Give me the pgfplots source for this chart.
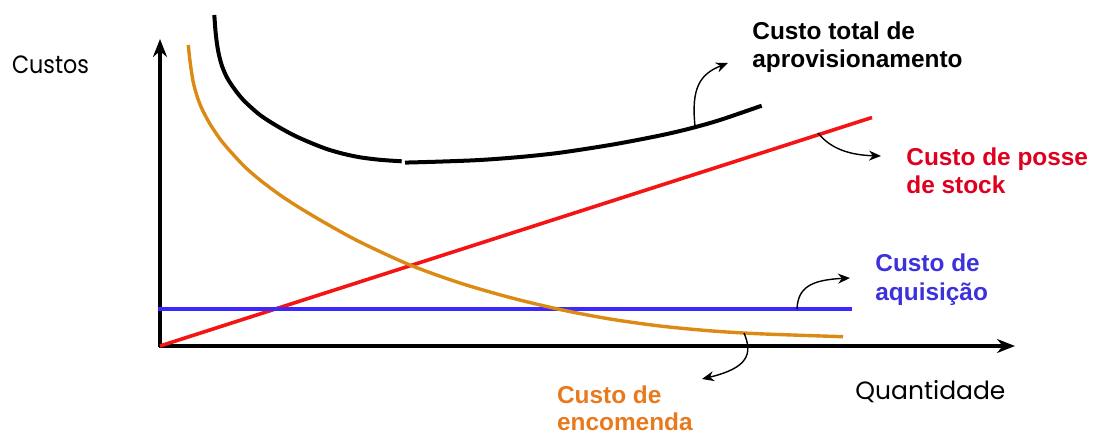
\documentclass[border=0pt]{standalone}
\usepackage{fontspec}
\usepackage{pgfplots}
\pgfplotsset{compat=1.18}
\usetikzlibrary{arrows.meta}
\setmainfont{Liberation Sans}
\newfontfamily\geo{Poppins}
\definecolor{cblack}{RGB}{0,0,0}
\definecolor{corange}{RGB}{219,138,20}
\definecolor{cred}{RGB}{245,20,20}
\definecolor{cblue}{RGB}{60,40,255}
\definecolor{tred}{RGB}{222,0,30}
\definecolor{tblue}{RGB}{60,50,220}
\definecolor{torange}{RGB}{232,122,30}
\begin{document}
\begin{tikzpicture}
\begin{axis}[hide axis, x=0.5pt, y=0.5pt, xmin=-160, xmax=934, ymin=-89, ymax=346, clip=false]
% axes
\addplot[line width=2pt, -{Stealth[length=9pt,width=7pt]}] coordinates {(-1,0) (855,0)};
\addplot[line width=2pt, -{Stealth[length=9pt,width=7pt]}] coordinates {(0,-1) (0,307)};
% red: custo de posse de stock
\addplot[cred, line width=1.8pt] coordinates {(0,0) (712,228.5)};
% blue: custo de aquisicao
\addplot[cblue, line width=1.8pt] coordinates {(-2,37) (691.5,37)};
% orange: custo de encomenda
\addplot[corange, line width=1.7pt, smooth] coordinates {
(28.3,301) (30,285) (33,265) (37,250) (42,237) (50,222) (60,207) (70,195) (85,179)
(100,166) (120,151) (140,138) (167,122) (200,104) (250,81) (300,63) (350,48.5)
(400,36.5) (450,27) (500,20) (550,15.2) (600,12.2) (683,9.3)};
% black: custo total (two pieces)
\addplot[cblack, line width=2pt, smooth] coordinates {
(54.3,331) (55.5,315) (57,302) (59,291) (62,280) (66.7,269) (73,259) (83.3,246)
(100,231) (117,220) (133.3,211) (150,203.5) (166.7,197) (183,192.3) (200,188.7)
(220,186.2) (241.7,184.7)};
\addplot[cblack, line width=2pt, smooth] coordinates {
(245,183.4) (280,184.4) (320,186) (360,189) (400,193.3) (453,201.5) (500,210.5)
(530,217.5) (560,226) (601.7,240.3)};
% annotation arrows
\draw[line width=0.7pt, -{Stealth[length=6pt,width=5pt]}] (axis cs:535,220) .. controls (axis cs:531,258) and (axis cs:540,272) .. (axis cs:568,283);
\draw[line width=0.7pt, -{Stealth[length=6pt,width=5pt]}] (axis cs:658,213) .. controls (axis cs:670,198) and (axis cs:688,191) .. (axis cs:721,190);
\draw[line width=0.7pt, -{Stealth[length=6pt,width=5pt]}] (axis cs:637,37) .. controls (axis cs:638,58) and (axis cs:650,66) .. (axis cs:690,68);
\draw[line width=0.7pt, -{Stealth[length=6pt,width=5pt]}] (axis cs:584,13) .. controls (axis cs:593,-8) and (axis cs:588,-22) .. (axis cs:542,-33);
% labels
\node[anchor=base west, inner sep=0pt, font=\fontsize{12.2}{14}\selectfont\bfseries] at (axis cs:592,306) {Custo total de};
\node[anchor=base west, inner sep=0pt, font=\fontsize{12.2}{14}\selectfont\bfseries] at (axis cs:592,278) {aprovisionamento};
\node[anchor=base west, inner sep=0pt, text=tred, font=\fontsize{12.2}{14}\selectfont\bfseries] at (axis cs:746,181) {Custo de posse};
\node[anchor=base west, inner sep=0pt, text=tred, font=\fontsize{12.2}{14}\selectfont\bfseries] at (axis cs:746,152.7) {de stock};
\node[anchor=base west, inner sep=0pt, text=tblue, font=\fontsize{12.2}{14}\selectfont\bfseries] at (axis cs:715,74.3) {Custo de};
\node[anchor=base west, inner sep=0pt, text=tblue, font=\fontsize{12.2}{14}\selectfont\bfseries] at (axis cs:715,46) {aquisição};
\node[anchor=base west, inner sep=0pt, text=torange, font=\fontsize{12.2}{14}\selectfont\bfseries] at (axis cs:396.7,-57.3) {Custo de};
\node[anchor=base west, inner sep=0pt, text=torange, font=\fontsize{12.2}{14}\selectfont\bfseries] at (axis cs:396.7,-84) {encomenda};
\node[anchor=base west, inner sep=0pt, font=\geo\fontsize{12.5}{14}\selectfont, xscale=0.89] at (axis cs:-148.3,273) {Custos};
\node[anchor=base west, inner sep=0pt, font=\geo\fontsize{12.5}{14}\selectfont] at (axis cs:695,-53.5) {Quantidade};
\coordinate (bl) at (axis cs:-160,-89);
\coordinate (tr) at (axis cs:934,346);
\end{axis}
\pgfresetboundingbox
\path (bl) rectangle (tr);
\end{tikzpicture}
\end{document}
